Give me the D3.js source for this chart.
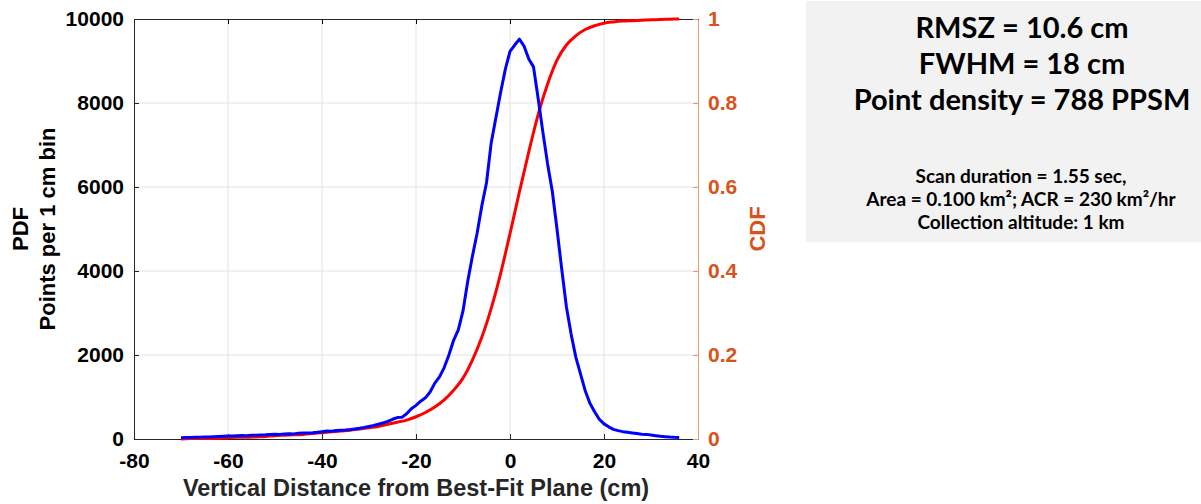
<!DOCTYPE html>
<html>
<head>
<meta charset="utf-8">
<script src="https://cdn.jsdelivr.net/npm/d3@7"></script>
<style>
    body { margin: 0; background: #fff; }
    svg { display: block; }
</style>
</head>
<body>
<div id="chart"></div>
<script>

// 1 cm bins from -70 to 36 cm
const binCenters = d3.range(-70, 37);

// points per bin
const pdfValues = [
    30, 33, 36, 40, 44, 47, 50, 55, 60, 66,
    72, 70, 78, 82, 80, 88, 92, 95, 100, 108,
    112, 110, 120, 125, 122, 135, 140, 145, 150, 160,
    175, 190, 185, 200, 210, 215, 225, 240, 255, 275,
    300, 320, 350, 385, 420, 470, 510, 515, 600, 720,
    800, 900, 980, 1120, 1330, 1480, 1700, 2000, 2350, 2600,
    3050, 3750, 4350, 4900, 5550, 6100, 7050, 7650, 8250, 8800,
    9230, 9380, 9520, 9350, 9050, 8860, 8100, 7300, 6550, 5900, 5000,
    4050, 3150, 2500, 1950, 1550, 1150, 850, 650, 470, 360,
    290, 230, 200, 175, 160, 145, 130, 115, 110, 95, 80, 65, 55, 45, 40, 38
];

// cumulative fraction every 2 cm (red curve)
const cdfX = d3.range(-70, 37, 2);
const cdfValues = [
    0.000, 0.001, 0.001, 0.001, 0.002, 0.003, 0.004, 0.004, 0.005, 0.006,
    0.008, 0.009, 0.010, 0.011, 0.013, 0.015, 0.017, 0.019, 0.021, 0.024,
    0.027, 0.030, 0.035, 0.040, 0.045, 0.053, 0.063, 0.076, 0.093, 0.116,
    0.145, 0.188, 0.242, 0.311, 0.394, 0.489, 0.588, 0.684, 0.773, 0.845,
    0.902, 0.938, 0.960, 0.975, 0.984, 0.990, 0.993, 0.995, 0.996, 0.997,
    0.998, 0.999, 0.9995, 1.000
];

const xTicks = [-80, -60, -40, -20, 0, 20, 40];
const yTicks = [0, 2000, 4000, 6000, 8000, 10000];
const cdfTicks = [0, 0.2, 0.4, 0.6, 0.8, 1];

const statsLines = ["RMSZ = 10.6 cm", "FWHM = 18 cm", "Point density = 788 PPSM"];
const infoLines = [
    "Scan duration = 1.55 sec,",
    "Area = 0.100 km²; ACR = 230 km²/hr",
    "Collection altitude: 1 km"
];


const width = 1201, height = 504;
const margin = {left: 134, top: 19, right: 503, bottom: 65};
const plotW = width - margin.left - margin.right;
const plotH = height - margin.top - margin.bottom;

const axisColor = "#262626";
const orange = "#D95319";
const tickFont = "'Liberation Sans', Arial, Helvetica, sans-serif";
const boxFont = "Lato, 'Open Sans', sans-serif";

let svg = d3.select("#chart").append("svg")
    .attr("width", width)
    .attr("height", height);

let x = d3.scaleLinear().domain([-80, 40]).range([margin.left, margin.left + plotW]);
let y = d3.scaleLinear().domain([0, 10000]).range([margin.top + plotH, margin.top]);
let yc = d3.scaleLinear().domain([0, 1]).range([margin.top + plotH, margin.top]);

// plain hyphen instead of unicode minus, like the original
let hyphen = d => String(d);

// grid
let grid = svg.append("g").attr("stroke", "#e3e3e3").attr("stroke-width", 1);
xTicks.slice(1, -1).forEach(t => {
    grid.append("line")
        .attr("x1", x(t)).attr("x2", x(t))
        .attr("y1", y(0)).attr("y2", y(10000));
});
yTicks.slice(1, -1).forEach(t => {
    grid.append("line")
        .attr("x1", x(-80)).attr("x2", x(40))
        .attr("y1", y(t)).attr("y2", y(t));
});

// bottom axis
let xAxis = svg.append("g")
    .attr("transform", `translate(0,${y(0)})`)
    .call(d3.axisBottom(x).tickValues(xTicks).tickSizeInner(-5).tickSizeOuter(0).tickPadding(14).tickFormat(hyphen));

// top box line
svg.append("g")
    .attr("transform", `translate(0,${y(10000)})`)
    .call(d3.axisTop(x).tickValues(xTicks).tickSizeInner(-5).tickSizeOuter(0).tickFormat(""));

// left axis
let yAxis = svg.append("g")
    .attr("transform", `translate(${x(-80)},0)`)
    .call(d3.axisLeft(y).tickValues(yTicks).tickSizeInner(-5).tickSizeOuter(0).tickPadding(10).tickFormat(hyphen));

// right axis (CDF)
let rAxis = svg.append("g")
    .attr("transform", `translate(${x(40)},0)`)
    .call(d3.axisRight(yc).tickValues(cdfTicks).tickSizeInner(-5).tickSizeOuter(0).tickPadding(10)
        .tickFormat(d => d === 0 || d === 1 ? String(d) : d3.format(".1f")(d)));

svg.selectAll(".tick text")
    .attr("font-family", tickFont)
    .attr("font-weight", "bold")
    .attr("font-size", 21);

[xAxis, yAxis].forEach(g => {
    g.selectAll("path, line").attr("stroke", axisColor);
    g.selectAll("text").attr("fill", "#000");
});
svg.selectAll("g path.domain").attr("stroke", axisColor);
rAxis.selectAll("path, line").attr("stroke", "#EE9B74");
rAxis.selectAll("text").attr("fill", orange);

// curves
let pdfLine = d3.line()
    .x((d, i) => x(binCenters[i]))
    .y(d => y(d));

let cdfLine = d3.line()
    .x((d, i) => x(cdfX[i]))
    .y(d => yc(d))
    .curve(d3.curveMonotoneX);

svg.append("path")
    .datum(cdfValues)
    .attr("fill", "none")
    .attr("stroke", "#FF0000")
    .attr("stroke-width", 3)
    .attr("d", cdfLine);

svg.append("path")
    .datum(pdfValues)
    .attr("fill", "none")
    .attr("stroke", "#0000FF")
    .attr("stroke-width", 3)
    .attr("stroke-linejoin", "round")
    .attr("d", pdfLine);

// axis labels
let midY = (y(0) + y(10000)) / 2;
let yLab = svg.append("text")
    .attr("transform", `translate(28,${midY}) rotate(-90)`)
    .attr("text-anchor", "middle")
    .attr("font-family", tickFont)
    .attr("font-weight", "bold")
    .attr("font-size", 22)
    .attr("fill", "#000");
yLab.append("tspan").attr("x", 0).attr("dy", 0).text("PDF");
yLab.append("tspan").attr("x", 0).attr("dy", 27).text("Points per 1 cm bin");

svg.append("text")
    .attr("transform", `translate(${x(40) + 67},${midY}) rotate(-90)`)
    .attr("text-anchor", "middle")
    .attr("font-family", tickFont)
    .attr("font-weight", "bold")
    .attr("font-size", 22)
    .attr("fill", orange)
    .text("CDF");

svg.append("text")
    .attr("x", (x(-80) + x(40)) / 2)
    .attr("y", 496)
    .attr("text-anchor", "middle")
    .attr("font-family", tickFont)
    .attr("font-weight", "bold")
    .attr("font-size", 23.5)
    .attr("fill", axisColor)
    .text("Vertical Distance from Best-Fit Plane (cm)");

// stats box
svg.append("rect")
    .attr("x", 806).attr("y", 1)
    .attr("width", width - 806).attr("height", 241)
    .attr("fill", "#F2F2F2");

statsLines.forEach((t, i) => {
    svg.append("text")
        .attr("x", 1022)
        .attr("y", 38 + i * 36)
        .attr("text-anchor", "middle")
        .attr("font-family", boxFont)
        .attr("font-weight", "bold")
        .attr("font-size", 29)
        .attr("fill", "#000")
        .text(t);
});

infoLines.forEach((t, i) => {
    svg.append("text")
        .attr("x", 1021)
        .attr("y", 183 + i * 23)
        .attr("text-anchor", "middle")
        .attr("font-family", boxFont)
        .attr("font-weight", "bold")
        .attr("font-size", 19)
        .attr("fill", "#000")
        .text(t);
});

</script>
</body>
</html>
